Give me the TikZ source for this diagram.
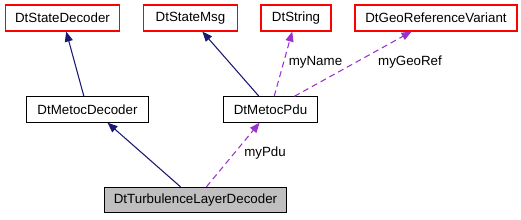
\documentclass[tikz,border=0pt]{standalone}
\usepackage{fontspec}
\setmainfont{Liberation Sans}
\usetikzlibrary{arrows.meta}
\definecolor{inhblue}{HTML}{191970}
\definecolor{usepurple}{HTML}{9A32CD}

\begin{document}
\begin{tikzpicture}[x=0.75pt, y=-0.75pt,
  every node/.style={font=\fontsize{10}{12}\selectfont, inner sep=0pt},
  cls/.style={draw=black, line width=0.8pt, minimum height=19pt},
  ext/.style={draw=red, line width=0.8pt, minimum height=19.5pt},
  cur/.style={cls, fill=black!25},
  inh/.style={draw=inhblue, line width=0.8pt, -{Triangle[length=7.5pt, width=6pt]}},
  use/.style={draw=usepurple, line width=0.8pt, dash pattern=on 4.5pt off 3pt, -{Triangle[length=7.5pt, width=6pt]}}]
\useasboundingbox (0,0) rectangle (521,219);
% top row
\node[ext, minimum width=86pt] (stdec) at (62.5,18) {DtStateDecoder};
\node[ext, minimum width=70pt] (stmsg) at (190.5,18) {DtStateMsg};
\node[ext, minimum width=52.5pt] (str) at (296,18) {DtString};
\node[ext, minimum width=121.5pt] (georef) at (436,18) {DtGeoReferenceVariant};
% middle row
\node[cls, minimum width=91pt] (mdec) at (87.5,109.5) {DtMetocDecoder};
\node[cls, minimum width=71pt] (pdu) at (270.5,109.5) {DtMetocPdu};
% bottom
\node[cur, minimum width=136pt] (turb) at (195.5,200) {DtTurbulenceLayerDecoder};
% inheritance
\draw[inh] (mdec) -- (stdec);
\draw[inh] (pdu) -- (stmsg);
\draw[inh] (turb) -- ([xshift=15pt]mdec.south);
% members
\draw[use] (pdu) -- (str);
\draw[use] (pdu) -- (georef);
\draw[use] (turb) -- (pdu);
% labels
\node (lname) at (315.5,62) {myName};
\node (lgeo) at (410,62) {myGeoRef};
\node (lpdu) at (265,153) {myPdu};
\end{tikzpicture}
\end{document}
